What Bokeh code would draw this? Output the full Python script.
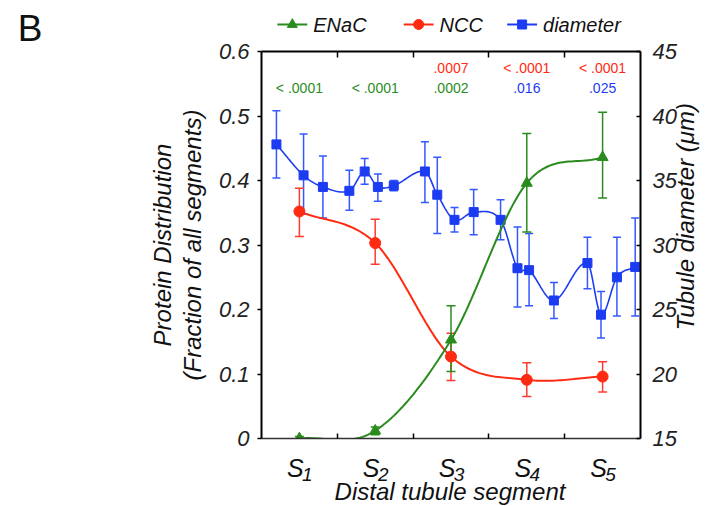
import numpy as np
from bokeh.plotting import figure
from bokeh.layouts import column
from bokeh.models import (Range1d, LinearAxis, FixedTicker, ColumnDataSource, Whisker, TeeHead)
from bokeh.core.properties import value
from bokeh.embed import file_html
from bokeh.resources import INLINE

# ---------------- data ----------------
seg_letters = ["S", "S", "S", "S", "S"]
seg_sub = ["1", "2", "3", "4", "5"]
seg_pos = [0.5, 1.5, 2.5, 3.5, 4.5]

enac = [0.0, 0.012, 0.153, 0.396, 0.436]
enac_upper = [0.003, 0.018, 0.206, 0.473, 0.506]
enac_lower = [-0.003, 0.006, 0.104, 0.320, 0.373]

ncc = [0.352, 0.303, 0.127, 0.091, 0.096]
ncc_upper = [0.388, 0.340, 0.163, 0.1175, 0.119]
ncc_lower = [0.313, 0.270, 0.090, 0.065, 0.072]

diam_pos = [0.197, 0.555, 0.81, 1.159, 1.361, 1.535, 1.745, 2.156, 2.319, 2.546,
            2.799, 3.154, 3.377, 3.530, 3.858, 4.30, 4.479, 4.689, 4.93]
diam = [37.8, 35.4, 34.5, 34.2, 35.7, 34.5, 34.6, 35.7, 33.9, 31.95,
        32.55, 31.95, 28.2, 28.05, 25.7, 28.6, 24.6, 27.5, 28.3]
diam_upper = [40.4, 38.6, 36.9, 35.8, 36.7, 35.5, 35.0, 38.0, 36.8, 32.9,
              34.3, 33.5, 31.4, 30.9, 27.1, 30.6, 26.4, 30.6, 32.1]
diam_lower = [35.2, 32.4, 32.1, 32.7, 34.7, 33.4, 34.2, 33.3, 30.9, 31.0,
              30.8, 30.4, 25.2, 25.3, 24.3, 26.6, 22.8, 24.5, 24.5]

pv_ncc = ["", "", ".0007", "< .0001", "< .0001"]
pv_enac = ["< .0001", "< .0001", ".0002", "", ""]
pv_diam = ["", "", "", ".016", ".025"]

left_ticks = [0, 0.1, 0.2, 0.3, 0.4, 0.5, 0.6]
left_labels = ["0", "0.1", "0.2", "0.3", "0.4", "0.5", "0.6"]
right_ticks = [15, 20, 25, 30, 35, 40, 45]
series_names = ["ENaC", "NCC", "diameter"]
panel_letter = "B"
right_title = "Tubule diameter (\u03bcm)"

# ---------------- styling / geometry ----------------
GREEN = "#2a8c1e"
RED = "#ff2a12"
RED_BAR = "#ff3b2f"
BLUE = "#1c3cf2"
BLUE_BAR = "#3358ff"
FONT = "Liberation Sans"
INK = "#111111"

W = 715
FL, FT, FW, FH = 261, 51, 381, 387          # main frame in page px
PAD_T, PAD_B = 8, 8                          # room for top / bottom tick axes
TOP_H = FT - PAD_T                           # top strip height
MAIN_H = PAD_T + FH + PAD_B
BOT_H = 506 - TOP_H - MAIN_H
FR = W - FL - FW
XMAX, YMAX = 5.0, 0.6
D0, D1 = 15, 45


def PY(page_y):
    return (FT + FH - page_y) / FH * YMAX


def hermite_curve(xs, ys, n=30):
    xs = np.asarray(xs, float)
    ys = np.asarray(ys, float)
    m = np.empty_like(ys)
    m[1:-1] = (ys[2:] - ys[:-2]) / (xs[2:] - xs[:-2])
    m[0] = (ys[1] - ys[0]) / (xs[1] - xs[0])
    m[-1] = (ys[-1] - ys[-2]) / (xs[-1] - xs[-2])
    ox, oy = [], []
    for i in range(len(xs) - 1):
        h = xs[i + 1] - xs[i]
        t = np.linspace(0, 1, n, endpoint=(i == len(xs) - 2))
        h00 = 2 * t**3 - 3 * t**2 + 1
        h10 = t**3 - 2 * t**2 + t
        h01 = -2 * t**3 + 3 * t**2
        h11 = t**3 - t**2
        ox.append(xs[i] + t * h)
        oy.append(h00 * ys[i] + h10 * h * m[i] + h01 * ys[i + 1] + h11 * h * m[i + 1])
    return np.concatenate(ox), np.concatenate(oy)


def bare(fig):
    fig.xgrid.visible = False
    fig.ygrid.visible = False
    fig.outline_line_color = None
    fig.background_fill_color = "white"
    fig.border_fill_color = "white"


def style_axis(ax):
    ax.axis_line_color = "black"
    ax.axis_line_width = 2
    ax.major_tick_line_color = "black"
    ax.major_tick_line_width = 1.5
    ax.minor_tick_line_color = None
    ax.major_label_text_font = FONT
    ax.major_label_text_font_style = "italic"
    ax.major_label_text_font_size = "22px"
    ax.major_label_text_color = "#222222"
    ax.axis_label_text_font = FONT
    ax.axis_label_text_font_style = "italic"
    ax.axis_label_text_font_size = "24px"
    ax.axis_label_text_color = INK


def label_only(ax):
    ax.axis_line_color = None
    ax.major_tick_line_color = None
    ax.major_tick_in = 0
    ax.major_tick_out = 0
    ax.major_label_text_color = INK


# ================= main figure =================
p = figure(width=W, height=MAIN_H, x_range=Range1d(0, XMAX), y_range=Range1d(0, YMAX),
           output_backend="svg", toolbar_location=None,
           x_axis_location=None, y_axis_location=None,
           min_border_left=FL, min_border_top=PAD_T,
           min_border_right=FR, min_border_bottom=PAD_B)
p.extra_y_ranges = {"diam": Range1d(D0, D1)}
bare(p)

left = LinearAxis(ticker=FixedTicker(ticks=left_ticks),
                  major_label_overrides={t: l for t, l in zip(left_ticks, left_labels)},
                  axis_label="Protein Distribution\n(Fraction of all segments)")
style_axis(left)
left.major_tick_out = 4
left.major_tick_in = 0
left.major_label_standoff = 8
left.axis_label_standoff = 10
left.axis_label_text_line_height = 1.1
p.add_layout(left, "left")

right = LinearAxis(y_range_name="diam", ticker=FixedTicker(ticks=right_ticks))
style_axis(right)
right.major_tick_out = 0
right.major_tick_in = 4
right.major_label_standoff = 12
p.add_layout(right, "right")

# right-hand title: a rotated label (reads bottom-to-top) starting at its tick
title_start = round(D0 + (FT + FH - 330) / FH * (D1 - D0), 2)
rtitle = LinearAxis(y_range_name="diam", ticker=FixedTicker(ticks=[title_start]),
                    major_label_overrides={title_start: right_title},
                    major_label_orientation=np.pi / 2)
style_axis(rtitle)
label_only(rtitle)
rtitle.major_label_text_font_size = "24px"
rtitle.major_label_standoff = 6
p.add_layout(rtitle, "right")

bottom = LinearAxis(ticker=FixedTicker(ticks=[1, 2, 3, 4]))
style_axis(bottom)
bottom.axis_line_color = "#333333"
bottom.axis_line_width = 1.5
bottom.major_tick_out = 0
bottom.major_tick_in = 5
bottom.major_label_text_font_size = "0px"
bottom.major_label_standoff = 0
p.add_layout(bottom, "below")

top = LinearAxis(ticker=FixedTicker(ticks=[1, 2, 3, 4]))
style_axis(top)
top.major_tick_out = 0
top.major_tick_in = 6
top.major_label_text_font_size = "0px"
top.major_label_standoff = 0
p.add_layout(top, "above")


def add_whisker(xs, lo, hi, color, size, yname=None):
    src = ColumnDataSource(dict(x=xs, lo=lo, hi=hi))
    w = Whisker(source=src, base="x", lower="lo", upper="hi", dimension="height",
                line_color=color, line_width=1.5,
                upper_head=TeeHead(size=size, line_color=color, line_width=1.5),
                lower_head=TeeHead(size=size, line_color=color, line_width=1.5))
    if yname:
        w.y_range_name = yname
    p.add_layout(w)


add_whisker(diam_pos, diam_lower, diam_upper, BLUE_BAR, 8, "diam")
add_whisker(seg_pos, ncc_lower, ncc_upper, RED_BAR, 9)
add_whisker(seg_pos, enac_lower, enac_upper, GREEN, 9)

dcx, dcy = hermite_curve(diam_pos, diam)
p.line(dcx, dcy, y_range_name="diam", line_color=BLUE, line_width=1.6)
p.scatter(diam_pos, diam, y_range_name="diam", marker="square", size=9,
          fill_color=BLUE, line_color=BLUE)

ncx, ncy = hermite_curve(seg_pos, ncc)
p.line(ncx, ncy, line_color=RED, line_width=2)
p.scatter(seg_pos, ncc, marker="circle", size=11, fill_color=RED, line_color=RED)

ecx, ecy = hermite_curve(seg_pos, enac)
p.line(ecx, ecy, line_color=GREEN, line_width=2)
p.scatter(seg_pos, enac, marker="triangle", size=11, fill_color=GREEN, line_color=GREEN)


def pv_row(texts, color, page_y):
    p.text(x=seg_pos, y=[PY(page_y)] * len(seg_pos), text=texts, text_color=color,
           text_font=value(FONT), text_font_size="14px", text_align="center",
           text_baseline="middle")


pv_row(pv_ncc, RED, 67)
pv_row(pv_enac, GREEN, 87)
pv_row(pv_diam, BLUE, 87)

# ================= top strip: panel letter + legend =================
# frame aligned with the main frame; x = page px, y = pixels up from strip bottom
t = figure(width=W, height=TOP_H, x_range=Range1d(FL, FL + FW), y_range=Range1d(0, TOP_H),
           output_backend="svg", toolbar_location=None,
           x_axis_location=None, y_axis_location=None,
           min_border_left=FL, min_border_right=FR, min_border_top=0, min_border_bottom=0)
bare(t)

letter_y = 30
letter_axis = LinearAxis(ticker=FixedTicker(ticks=[letter_y]),
                         major_label_overrides={letter_y: panel_letter})
style_axis(letter_axis)
label_only(letter_axis)
letter_axis.major_label_text_font_style = "normal"
letter_axis.major_label_text_font_size = "37px"
letter_axis.major_label_standoff = 219
t.add_layout(letter_axis, "left")

leg_y = TOP_H - 24
leg_start = [277, 404, 508]       # left end of each legend sample line
leg_colors = [GREEN, RED, BLUE]
leg_markers = ["triangle", "circle", "square"]
leg_sizes = [10, 10, 9]
for x0, col, mk, sz, name in zip(leg_start, leg_colors, leg_markers, leg_sizes, series_names):
    t.segment(x0=[x0], y0=[leg_y], x1=[x0 + 30], y1=[leg_y], line_color=col, line_width=2)
    t.scatter(x=[x0 + 15], y=[leg_y], marker=mk, size=sz, fill_color=col, line_color=col)
    t.text(x=[x0 + 36], y=[leg_y], text=[name], text_font=value(FONT),
           text_font_style="italic", text_font_size="20px", text_align="left",
           text_baseline="middle", text_color=INK)

# ================= bottom strip: segment labels + x title =================
bot_top = TOP_H + MAIN_H
b = figure(width=W, height=BOT_H, x_range=Range1d(0, XMAX),
           y_range=Range1d(bot_top + BOT_H, bot_top),
           output_backend="svg", toolbar_location=None,
           x_axis_location=None, y_axis_location=None,
           min_border_left=FL, min_border_right=FR, min_border_top=0, min_border_bottom=0)
bare(b)
b.text(x=seg_pos, y=[467] * len(seg_pos), text=seg_letters, x_offset=-4,
       text_font=value(FONT), text_font_style="italic", text_font_size="25px",
       text_align="center", text_baseline="alphabetic", text_color=INK)
b.text(x=seg_pos, y=[474] * len(seg_pos), text=seg_sub, x_offset=8,
       text_font=value(FONT), text_font_style="italic", text_font_size="19px",
       text_align="center", text_baseline="alphabetic", text_color=INK)
b.text(x=[XMAX / 2], y=[491], text=["Distal tubule segment"], x_offset=-1,
       text_font=value(FONT), text_font_style="italic", text_font_size="24px",
       text_align="center", text_baseline="middle", text_color=INK)

layout = column(t, p, b, spacing=0)
open("out.html", "w").write(file_html(layout, INLINE))
